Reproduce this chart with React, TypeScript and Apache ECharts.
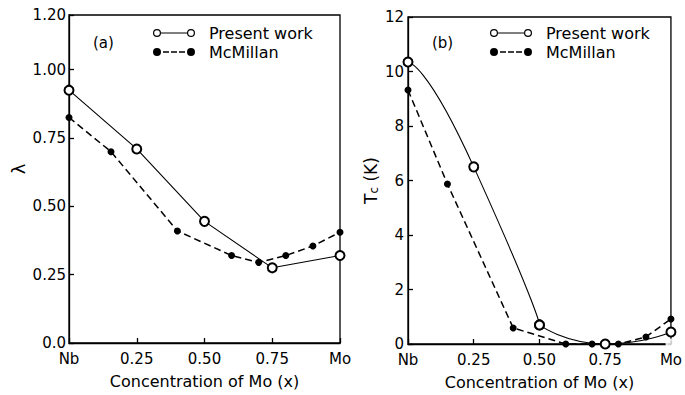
import React, { useEffect, useRef } from "react";
import * as echarts from "echarts";

const FONT = "DejaVu Sans";

// Panel (a): electron-phonon coupling constant lambda
const presentA_x = [0, 0.25, 0.5, 0.75, 1.0];
const presentA_y = [0.925, 0.71, 0.445, 0.275, 0.32];
const mcmA_x = [0, 0.155, 0.4, 0.6, 0.7, 0.8, 0.9, 1.0];
const mcmA_y = [0.825, 0.7, 0.41, 0.32, 0.295, 0.32, 0.355, 0.405];

// Panel (b): Tc (K) — the "present work" curve is drawn as two smoothed pieces that meet at x = 0.5
const presentB_x = [0, 0.25, 0.5, 0.75, 1.0];
const presentB_y = [10.35, 6.5, 0.7, 0, 0.44];
const presentB_breakIndex = 2;
const presentB_extra_x = [1.0];
const presentB_extra_y = [0];
const mcmB_x = [0, 0.15, 0.4, 0.6, 0.7, 0.8, 0.905, 1.0];
const mcmB_y = [9.32, 5.87, 0.59, 0, 0, 0, 0.26, 0.92];

const seriesNames = ["Present work", "McMillan"];
const xTickLabels: Record<string, string> = { "0": "Nb", "1": "Mo" };

const zip = (xs: number[], ys: number[]) => xs.map((x, i) => [x, ys[i]]);
const presentB = zip(presentB_x, presentB_y);
const presentB_first = presentB.slice(0, presentB_breakIndex + 1);
const presentB_second = presentB.slice(presentB_breakIndex);

const openIcon =
  "path://M0,4A4,4,0,1,0,8,4A4,4,0,1,0,0,4ZM1.2,4A2.8,2.8,0,1,1,6.8,4A2.8,2.8,0,1,1,1.2,4ZM8,3.5L34,3.5L34,4.5L8,4.5ZM34,4A4,4,0,1,0,42,4A4,4,0,1,0,34,4ZM35.2,4A2.8,2.8,0,1,1,40.8,4A2.8,2.8,0,1,1,35.2,4Z";
const filledIcon =
  "path://M0,4A4,4,0,1,0,8,4A4,4,0,1,0,0,4ZM10,3.3L16,3.3L16,4.7L10,4.7ZM18,3.3L24,3.3L24,4.7L18,4.7ZM26,3.3L32,3.3L32,4.7L26,4.7ZM34,4A4,4,0,1,0,42,4A4,4,0,1,0,34,4Z";

const xFormatter = (v: number) => {
  const k = String(Math.round(v * 100) / 100);
  return xTickLabels[k] ?? v.toFixed(2);
};

function makeXAxis(gridIndex: number) {
  return {
    type: "value",
    gridIndex,
    min: 0,
    max: 1,
    interval: 0.25,
    name: "Concentration of Mo (x)",
    nameLocation: "middle",
    nameGap: 30,
    nameTextStyle: { fontFamily: FONT, fontSize: 16, color: "#000" },
    axisLine: { lineStyle: { color: "#000", width: 1.3 } },
    axisTick: { inside: true, length: 5, lineStyle: { color: "#000", width: 1.3 } },
    axisLabel: { formatter: xFormatter, margin: 8, fontFamily: FONT, fontSize: 15, color: "#000", lineHeight: 15 },
    splitLine: { show: false },
  };
}

function makeLegend(left: number, top: number) {
  return {
    orient: "vertical",
    left,
    top,
    itemWidth: 42,
    itemHeight: 8,
    itemGap: 3,
    itemStyle: { color: "#000", borderWidth: 0 },
    textStyle: { fontFamily: FONT, fontSize: 16, color: "#000", padding: [0, 0, 0, 9] },
    data: [
      { name: seriesNames[0], icon: openIcon },
      { name: seriesNames[1], icon: filledIcon },
    ],
  };
}

const solid = { color: "#000", width: 1.1, type: "solid" };
const dashed = { color: "#000", width: 1.5, type: [7, 4] };
const openItem = { color: "#000", borderColor: "#000", borderWidth: 1.2 };
const filledItem = { color: "#000" };

const yLabelBase = { fontFamily: FONT, fontSize: 15, color: "#000", lineHeight: 13 };

const option: any = {
  animation: false,
  backgroundColor: "#fff",
  textStyle: { fontFamily: FONT },
  grid: [
    { left: 69, top: 15, width: 271, height: 328, show: true, borderColor: "#000", borderWidth: 1.3, backgroundColor: "transparent" },
    { left: 408, top: 17, width: 268, height: 327, show: true, borderColor: "#000", borderWidth: 1.3, backgroundColor: "transparent" },
  ],
  legend: [makeLegend(148, 20), makeLegend(485, 20)],
  graphic: [
    { type: "text", left: 93, top: 35, style: { text: "(a)", fontFamily: FONT, fontSize: 15, fill: "#000" } },
    { type: "text", left: 432, top: 35, style: { text: "(b)", fontFamily: FONT, fontSize: 15, fill: "#000" } },
  ],
  xAxis: [makeXAxis(0), makeXAxis(1)],
  yAxis: [
    {
      type: "value",
      gridIndex: 0,
      min: 0,
      max: 1.2,
      interval: 0.25,
      name: "λ",
      nameLocation: "middle",
      nameGap: 42,
      nameTextStyle: { fontFamily: FONT, fontSize: 18, color: "#000", padding: [0, 0, 0, 20] },
      axisLine: { lineStyle: { color: "#000", width: 1.3 } },
      axisTick: { inside: true, length: 5, lineStyle: { color: "#000", width: 1.3 } },
      axisLabel: {
        ...yLabelBase,
        margin: 3,
        formatter: (v: number) => (v === 0 ? "0.0" : v.toFixed(2)),
      },
      splitLine: { show: false },
    },
    {
      type: "value",
      gridIndex: 1,
      min: 0,
      max: 12,
      interval: 2,
      name: "{t|T}{s|c}{t| (K)}",
      nameLocation: "middle",
      nameGap: 28,
      nameTextStyle: {
        fontFamily: FONT,
        color: "#000",
        rich: {
          t: { fontFamily: FONT, fontSize: 17, color: "#000" },
          s: { fontFamily: FONT, fontSize: 12, color: "#000", verticalAlign: "bottom", padding: [7, 0, 0, 0] },
        },
      },
      axisLine: { lineStyle: { color: "#000", width: 1.3 } },
      axisTick: { inside: true, length: 5, lineStyle: { color: "#000", width: 1.3 } },
      axisLabel: { ...yLabelBase, margin: 4 },
      splitLine: { show: false },
    },
  ],
  series: [
    {
      name: seriesNames[0],
      type: "line",
      xAxisIndex: 0,
      yAxisIndex: 0,
      data: zip(presentA_x, presentA_y),
      symbol: "emptyCircle",
      symbolSize: 9,
      lineStyle: solid,
      itemStyle: openItem,
      z: 3,
    },
    {
      name: seriesNames[1],
      type: "line",
      xAxisIndex: 0,
      yAxisIndex: 0,
      data: zip(mcmA_x, mcmA_y),
      symbol: "circle",
      symbolSize: 7,
      lineStyle: dashed,
      itemStyle: filledItem,
      z: 2,
    },
    {
      name: seriesNames[0],
      type: "line",
      xAxisIndex: 1,
      yAxisIndex: 1,
      data: presentB_first,
      smooth: 1,
      symbol: "emptyCircle",
      symbolSize: 9,
      lineStyle: solid,
      itemStyle: openItem,
      z: 3,
    },
    {
      name: seriesNames[0],
      type: "line",
      xAxisIndex: 1,
      yAxisIndex: 1,
      data: presentB_second,
      smooth: 0.6,
      symbol: "emptyCircle",
      symbolSize: 9,
      lineStyle: solid,
      itemStyle: openItem,
      z: 3,
    },
    {
      name: seriesNames[0],
      type: "scatter",
      xAxisIndex: 1,
      yAxisIndex: 1,
      data: zip(presentB_extra_x, presentB_extra_y),
      symbol: "emptyCircle",
      symbolSize: 9,
      itemStyle: { color: "#fff", borderColor: "#000", borderWidth: 1.2 },
      z: 3,
    },
    {
      name: seriesNames[1],
      type: "line",
      xAxisIndex: 1,
      yAxisIndex: 1,
      data: zip(mcmB_x, mcmB_y),
      symbol: "circle",
      symbolSize: 7,
      lineStyle: dashed,
      itemStyle: filledItem,
      z: 2,
    },
  ],
};

export default function App() {
  const ref = useRef<HTMLDivElement>(null);
  useEffect(() => {
    const el = ref.current;
    if (!el) return;
    const chart = echarts.init(el, null, { renderer: "svg" });
    chart.setOption(option);
    return () => chart.dispose();
  }, []);
  return (
    <div
      ref={ref}
      style={{ position: "fixed", left: 0, top: 0, width: 685, height: 395, background: "#fff" }}
    />
  );
}
